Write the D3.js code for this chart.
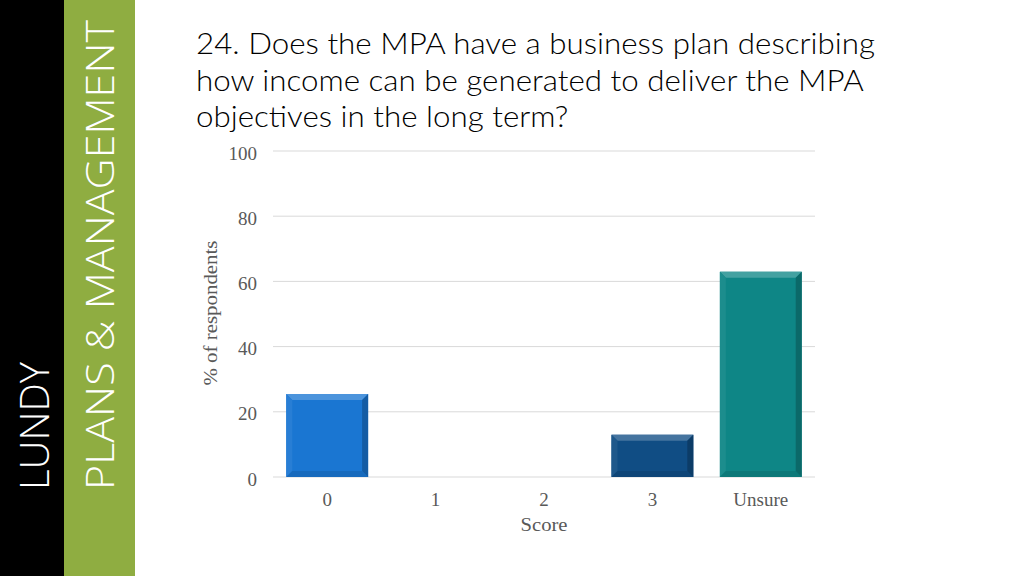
<!DOCTYPE html>
<html><head><meta charset="utf-8">
<script src="https://cdn.jsdelivr.net/npm/d3@7"></script>
<style>html,body{margin:0;padding:0;background:#fff;}svg{display:block;}</style>
</head><body>
<svg id="c" width="1024" height="576"></svg>
<script>
const categories = ["0", "1", "2", "3", "Unsure"];
const values = [25, 0, 0, 12.5, 62.5];
const barColors = ["#1a76d2", "#1a76d2", "#1a76d2", "#104d84", "#0e8686"];
const yTicks = [0, 20, 40, 60, 80, 100];
const titleLines = ["24. Does the MPA have a business plan describing", "how income can be generated to deliver the MPA", "objectives in the long term?"];
const sideLabels = ["LUNDY", "PLANS & MANAGEMENT"];

const svg = d3.select("#c");
const serif = "'Liberation Serif','DejaVu Serif',serif";
const sans = "'Open Sans','Lato',sans-serif";

// side bands
svg.append("rect").attr("x", 0).attr("y", 0).attr("width", 64).attr("height", 576).attr("fill", "#000");
svg.append("rect").attr("x", 64).attr("y", 0).attr("width", 71).attr("height", 576).attr("fill", "#8fad41");
svg.append("text").attr("transform", "translate(49,490) rotate(-90)")
  .attr("fill", "#fff").attr("font-family", sans).attr("font-weight", 300).attr("font-size", 40)
  .attr("textLength", 128).attr("lengthAdjust", "spacingAndGlyphs")
  .text(sideLabels[0]);
svg.append("text").attr("transform", "translate(114,490) rotate(-90)")
  .attr("fill", "#fff").attr("font-family", sans).attr("font-weight", 300).attr("font-size", 39)
  .attr("textLength", 470).attr("lengthAdjust", "spacingAndGlyphs")
  .text(sideLabels[1]);

// title (Lato light, stretched uniformly to the reference line width)
const tg = svg.append("g");
const tt = tg.selectAll("text").data(titleLines).join("text")
  .attr("x", 196).attr("y", (d, i) => 54 + i * 36.5)
  .attr("fill", "#000").attr("font-family", "Lato,'Open Sans',sans-serif").attr("font-weight", 300).attr("font-size", 30)
  .text(d => d);
const w0 = tt.nodes()[0].getComputedTextLength();
const k = 679 / w0;
tt.each(function() {
  const w = this.getComputedTextLength();
  d3.select(this).attr("textLength", w * k).attr("lengthAdjust", "spacingAndGlyphs");
});

const x = d3.scaleBand().domain(categories).range([273, 815]).paddingInner(0.245).paddingOuter(0.1225);
const y = d3.scaleLinear().domain([0, 100]).range([477, 151]);

// gridlines
svg.append("g").selectAll("line").data(yTicks).join("line")
  .attr("x1", 273).attr("x2", 815).attr("y1", d => y(d)).attr("y2", d => y(d))
  .attr("stroke", "#d9d9d9").attr("stroke-width", 1);

// y axis labels
const yAxis = d3.axisLeft(y).tickValues(yTicks).tickSize(0).tickPadding(0);
const gy = svg.append("g").attr("transform", "translate(257,2)").call(yAxis);
gy.select(".domain").remove();
gy.selectAll("text").attr("font-family", serif).attr("font-size", 19).attr("fill", "#595959");

// x axis labels
const xAxis = d3.axisBottom(x).tickSize(0).tickPadding(0);
const gx = svg.append("g").attr("transform", "translate(0,492)").call(xAxis);
gx.select(".domain").remove();
gx.selectAll("text").attr("font-family", serif).attr("font-size", 19).attr("fill", "#595959");

// axis titles
svg.append("text").attr("x", 544).attr("y", 531).attr("text-anchor", "middle")
  .attr("font-family", serif).attr("font-size", 19).attr("fill", "#595959")
  .attr("textLength", 47).attr("lengthAdjust", "spacingAndGlyphs").text("Score");
svg.append("text").attr("transform", "translate(217,313) rotate(-90)").attr("text-anchor", "middle")
  .attr("font-family", serif).attr("font-size", 18).attr("fill", "#595959")
  .attr("textLength", 145).attr("lengthAdjust", "spacingAndGlyphs").text("% of respondents");

// bevel bars
const data = categories.map((c, i) => ({c, v: values[i], col: barColors[i]})).filter(d => d.v > 0);
const b = 6;
const g = svg.append("g").selectAll("g").data(data).join("g");
g.append("rect")
  .attr("x", d => x(d.c)).attr("y", d => y(d.v) - 1.5)
  .attr("width", x.bandwidth()).attr("height", d => y(0) - y(d.v) + 1.5)
  .attr("fill", d => d.col);
function poly(d, which) {
  const x0 = x(d.c), x1 = x0 + x.bandwidth(), y0 = y(d.v) - 1.5, y1 = y(0);
  const pts = {
    top: [[x0, y0], [x1, y0], [x1 - b, y0 + b], [x0 + b, y0 + b]],
    right: [[x1, y0], [x1, y1], [x1 - b, y1 - b], [x1 - b, y0 + b]],
    bottom: [[x0, y1], [x1, y1], [x1 - b, y1 - b], [x0 + b, y1 - b]],
    left: [[x0, y0], [x0 + b, y0 + b], [x0 + b, y1 - b], [x0, y1]]
  }[which];
  return pts.map(p => p.join(",")).join(" ");
}
g.append("polygon").attr("points", d => poly(d, "top")).attr("fill", d => d3.interpolateRgb(d.col, "#fff")(0.22));
g.append("polygon").attr("points", d => poly(d, "left")).attr("fill", d => d3.interpolateRgb(d.col, "#fff")(0.06));
g.append("polygon").attr("points", d => poly(d, "bottom")).attr("fill", d => d3.interpolateRgb(d.col, "#000")(0.1));
g.append("polygon").attr("points", d => poly(d, "right")).attr("fill", d => d3.interpolateRgb(d.col, "#000")(0.22));
</script>
</body></html>
